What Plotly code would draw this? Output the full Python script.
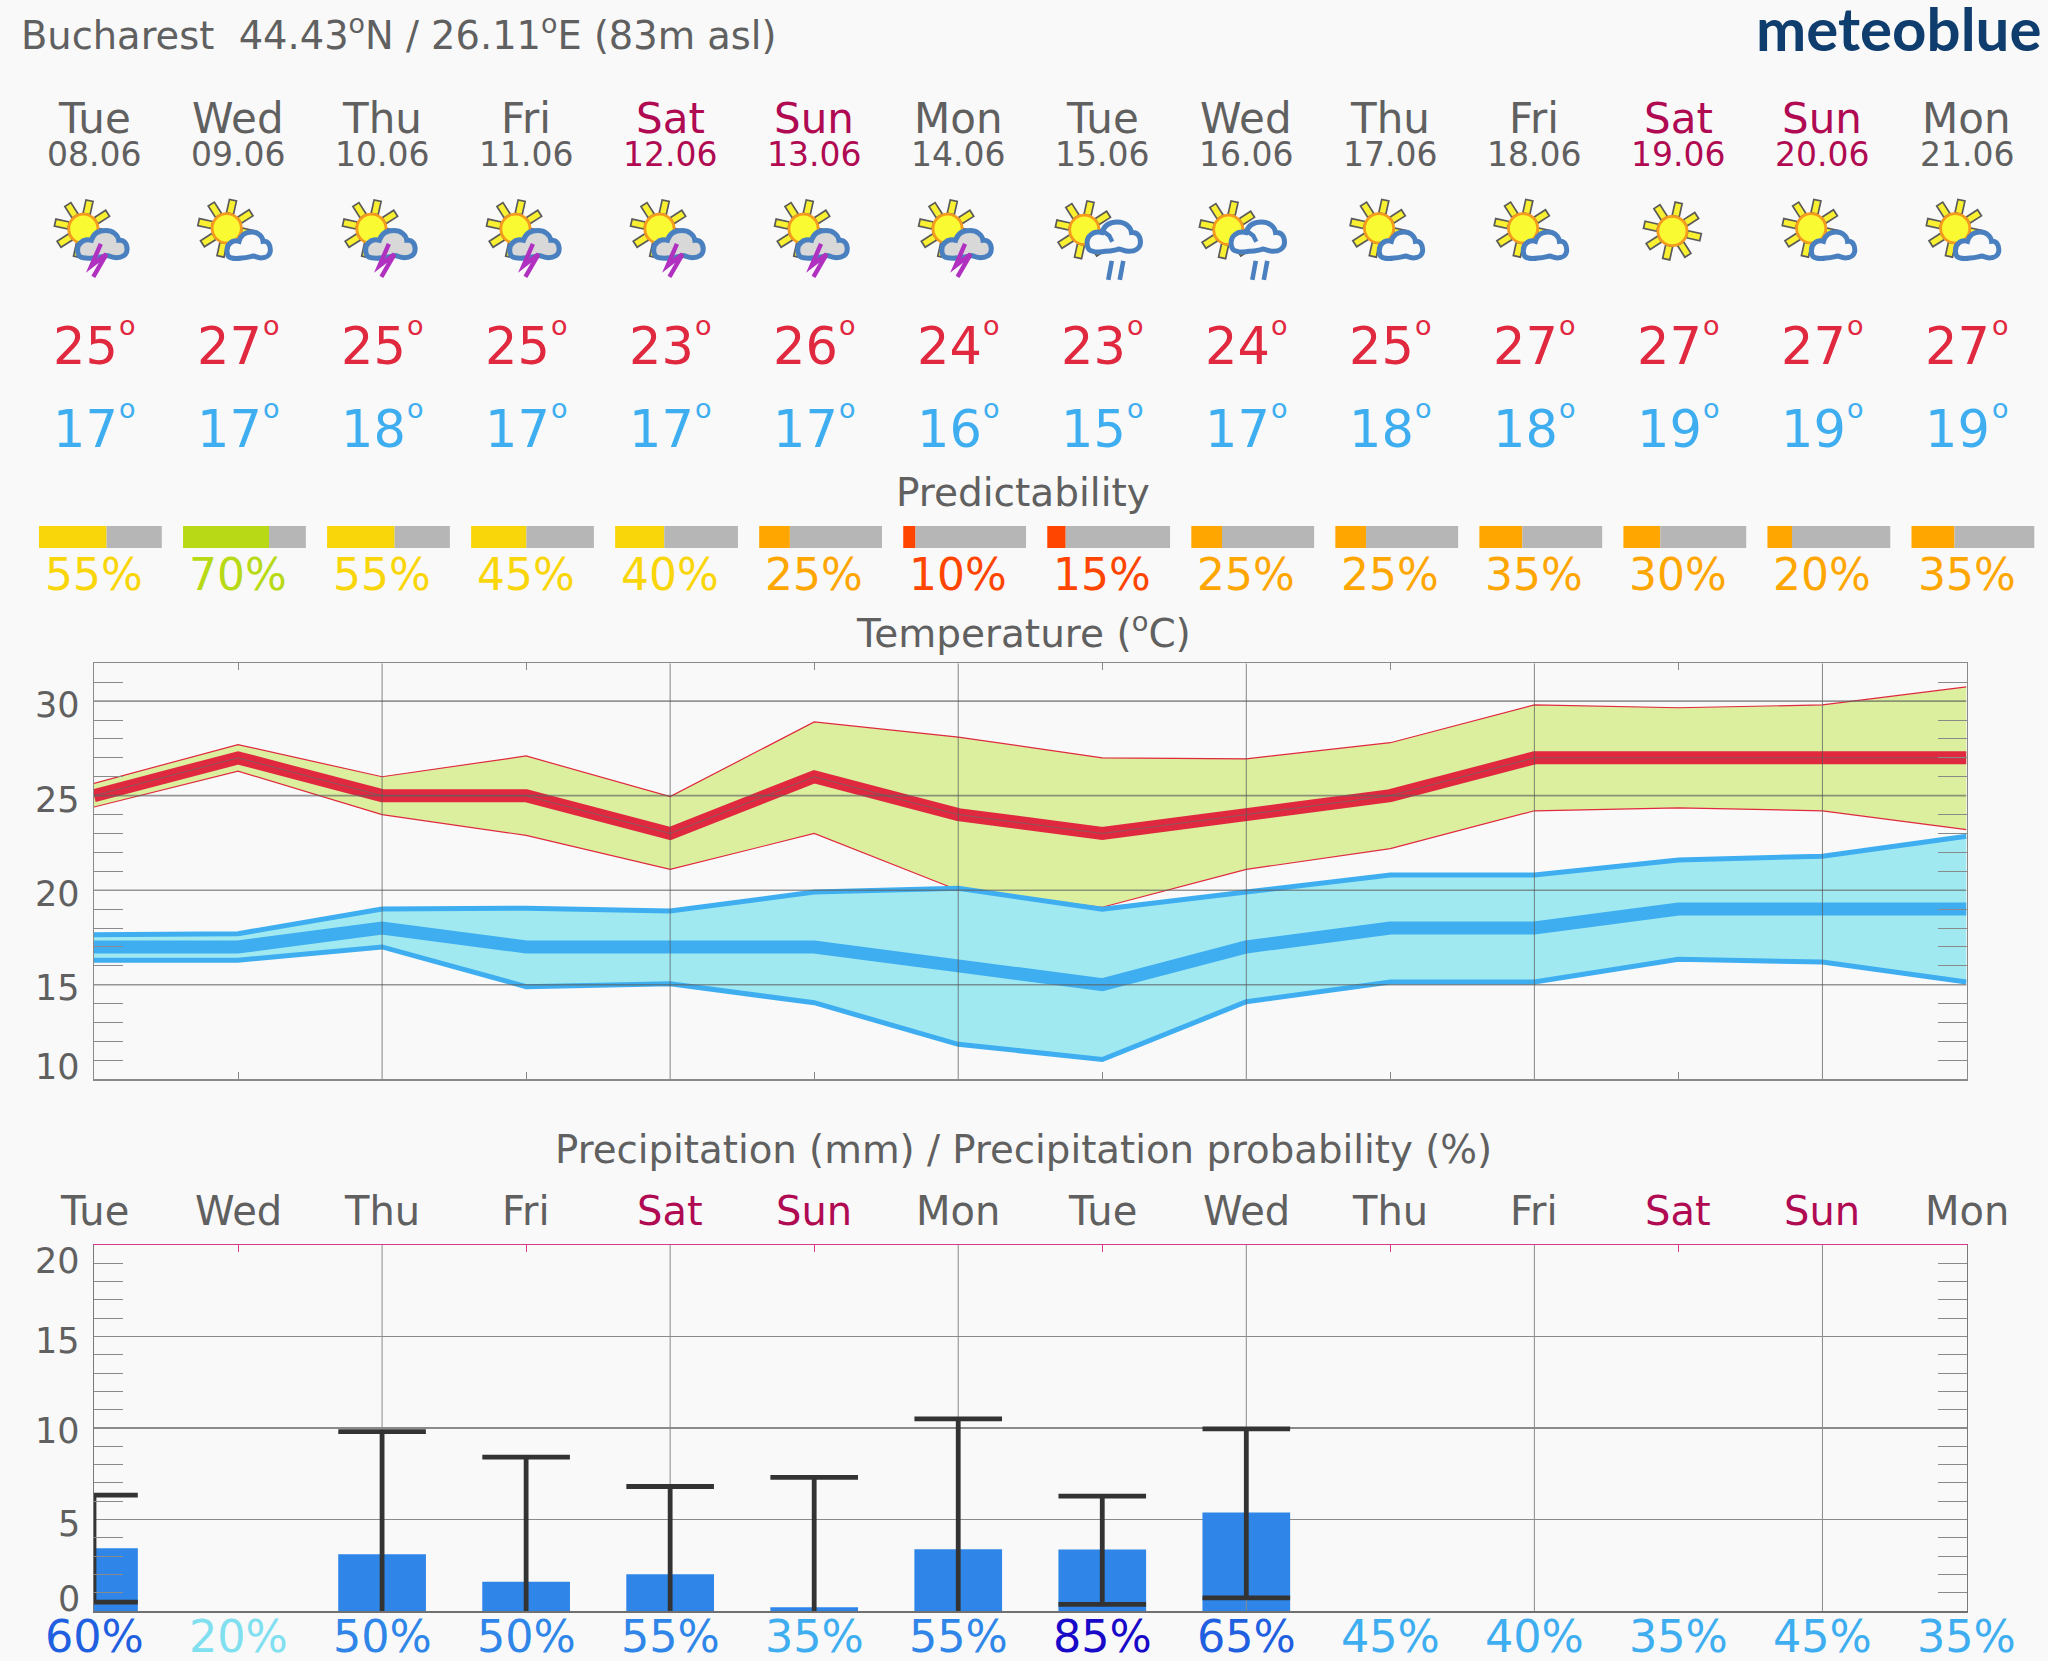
import math
import plotly.graph_objects as go

W, H = 2048, 1661
BG = "#f9f9f9"
GRAY = "#606060"
WKND = "#b00a52"
RED = "#e0283f"
SKY = "#3eaef0"
FONT = "DejaVu Sans"

days = ["Tue", "Wed", "Thu", "Fri", "Sat", "Sun", "Mon", "Tue", "Wed", "Thu", "Fri", "Sat", "Sun", "Mon"]
dates = ["08.06", "09.06", "10.06", "11.06", "12.06", "13.06", "14.06", "15.06", "16.06", "17.06", "18.06", "19.06", "20.06", "21.06"]
icons = ["storm", "cloud", "storm", "storm", "storm", "storm", "storm", "rain", "rain", "cloud", "cloud", "sun", "cloud", "cloud"]
tmax_daily = [25, 27, 25, 25, 23, 26, 24, 23, 24, 25, 27, 27, 27, 27]
tmin_daily = [17, 17, 18, 17, 17, 17, 16, 15, 17, 18, 18, 19, 19, 19]
tmax_hi = [25.65, 27.7, 26.0, 27.1, 24.95, 28.9, 28.1, 27.0, 26.95, 27.8, 29.8, 29.65, 29.8, 30.75]
tmax_lo = [24.4, 26.3, 24.0, 22.9, 21.1, 23.0, 20.0, 19.1, 21.1, 22.2, 24.2, 24.35, 24.2, 23.2]
tmin_hi = [17.65, 17.7, 19.0, 19.05, 18.9, 19.9, 20.1, 19.0, 19.9, 20.8, 20.8, 21.6, 21.8, 22.85]
tmin_lo = [16.3, 16.3, 17.0, 14.9, 15.05, 14.05, 11.85, 11.05, 14.1, 15.15, 15.15, 16.35, 16.2, 15.15]
predictability = [55, 70, 55, 45, 40, 25, 10, 15, 25, 25, 35, 30, 20, 35]
precip = [3.43, 0, 3.1, 1.6, 2.0, 0.2, 3.37, 3.36, 5.38, 0, 0, 0, 0, 0]
precip_hi = [6.33, None, 9.8, 8.4, 6.8, 7.3, 10.5, 6.27, 9.95, None, None, None, None, None]
precip_lo = [0.48, None, 0, 0, 0, 0, 0, 0.36, 0.71, None, None, None, None, None]
precip_prob = [60, 20, 50, 50, 55, 35, 55, 85, 65, 45, 40, 35, 45, 35]
temp_ticks = [30, 25, 20, 15, 10]
precip_ticks = [20, 15, 10, 5, 0]
temp_tick_shift = {30: 4, 25: 4, 20: 4, 15: 3, 10: -12}
precip_tick_shift = {20: 16, 15: 5, 10: 3, 5: 5, 0: -12}

X0, X1 = 94.0, 1966.5
DAY = (X1 - X0) / 13
xs = list(range(14))


def pred_color(p):
    if p <= 15:
        return "#ff4500"
    if p < 40:
        return "#ffa600"
    if p < 60:
        return "#f9d60a"
    return "#b8d916"


def prob_color(p):
    if p >= 80:
        return "#1808c8"
    if p >= 60:
        return "#1f5fe0"
    if p >= 50:
        return "#2f86e8"
    if p >= 30:
        return "#3eaef0"
    return "#80e0f0"


fig = go.Figure()


def line(x, y, color, width, **kw):
    fig.add_trace(go.Scatter(x=x, y=y, mode="lines", line=dict(color=color, width=width),
                             hoverinfo="skip", **kw))


# temperature bands
line(xs, tmax_lo, RED, 1.2, xaxis="x", yaxis="y")
line(xs, tmax_hi, RED, 1.2, xaxis="x", yaxis="y", fill="tonexty", fillcolor="#dbef9e")
line(xs, tmin_lo, SKY, 5, xaxis="x", yaxis="y")
line(xs, tmin_hi, SKY, 5, xaxis="x", yaxis="y", fill="tonexty", fillcolor="#a0e9f1")
line(xs, tmax_daily, RED, 13, xaxis="x", yaxis="y")
line(xs, tmin_daily, SKY, 13, xaxis="x", yaxis="y")
line(xs, tmax_daily, "rgba(105,105,105,0.75)", 1, xaxis="x", yaxis="y")

# temperature grid, drawn over the bands
gx, gy = [], []
for t in temp_ticks[:-1]:
    gx += [0, 13, None]
    gy += [t, t, None]
line(gx, gy, "rgba(95,95,95,0.65)", 1.6, xaxis="x", yaxis="y")
vx, vy = [], []
for d in xs[2:13:2]:
    vx += [d, d, None]
    vy += [10, 32, None]
line(vx, vy, "rgba(85,85,85,0.7)", 1, xaxis="x", yaxis="y")

# predictability bars
SPAN = 122.8 / DAY
OFFS = (39.0 - X0) / DAY
starts = [i + OFFS for i in xs]
fills = [p / 100 * SPAN for p in predictability]
fig.add_trace(go.Bar(x=fills, base=starts, y=[0.5] * 14, width=1, orientation="h",
                     marker=dict(color=[pred_color(p) for p in predictability], line=dict(width=0)),
                     xaxis="x3", yaxis="y3", hoverinfo="skip"))
fig.add_trace(go.Bar(x=[SPAN - f for f in fills], base=[s + f for s, f in zip(starts, fills)],
                     y=[0.5] * 14, width=1, orientation="h",
                     marker=dict(color="#b6b6b6", line=dict(width=0)),
                     xaxis="x3", yaxis="y3", hoverinfo="skip"))

# precipitation
fig.add_trace(go.Bar(x=xs, y=precip, width=87.7 / DAY, marker=dict(color="#2f86e8", line=dict(width=0)),
                     xaxis="x2", yaxis="y2", hoverinfo="skip"))
pgx, pgy = [], []
for d in xs[2:13:2]:
    pgx += [d, d, None]
    pgy += [0, 20, None]
line(pgx, pgy, "#8a8a8a", 1, xaxis="x2", yaxis="y2")
CAP = 43.8 / DAY
wx, wy, cx, cy = [], [], [], []
for i in xs:
    if precip_hi[i] is None:
        continue
    wx += [i, i, None]
    wy += [precip_lo[i], precip_hi[i], None]
    caps = [precip_hi[i]] + ([precip_lo[i]] if precip_lo[i] > 0 else [])
    for c in caps:
        cx += [max(i - CAP, 0), i + CAP, None]
        cy += [c, c, None]
line(wx, wy, "#333333", 4.8, xaxis="x2", yaxis="y2", cliponaxis=False)
line(cx, cy, "#333333", 4.8, xaxis="x2", yaxis="y2", cliponaxis=False)
# top axis of the precipitation panel
fig.add_trace(go.Scatter(x=[0, 13], y=[20, 20], mode="none", xaxis="x4", yaxis="y2", hoverinfo="skip"))

ann = []


def text(x, base, s, size, color, anchor="center", bold=False, family=FONT):
    ann.append(dict(x=x / W, xref="paper", y=1 - (base - 0.928 * size) / H, yref="paper", text=s,
                    showarrow=False, xanchor=anchor, yanchor="top", borderpad=0, borderwidth=0,
                    font=dict(family=family, size=size, color=color,
                              weight=700 if bold else 400)))


text(21, 44, "Bucharest\u00a0\u00a044.43<sup>o</sup>N / 26.11<sup>o</sup>E (83m asl)", 38.4, GRAY, "left")
text(2041, 48, "meteoblue", 60, "#0f3d6e", "right", True, "Lato")
text(1023, 506, "Predictability", 39, GRAY)
text(1023, 642.5, "Temperature (<sup>o</sup>C)", 39, GRAY)
text(1023, 1163, "Precipitation (mm) / Precipitation probability (%)", 38.7, GRAY)

for i in xs:
    c = WKND if days[i] in ("Sat", "Sun") else GRAY
    x = X0 + i * DAY
    text(x, 133, days[i], 42, c)
    text(x, 166, dates[i], 33, c)
    text(x - 9, 364.7, str(tmax_daily[i]), 51, RED)
    text(x + 33.5, 335, "o", 27, RED)
    text(x - 9, 447.7, str(tmin_daily[i]), 51, SKY)
    text(x + 33.5, 418, "o", 27, SKY)
    text(x, 590, f"{predictability[i]}%", 44, pred_color(predictability[i]))
    text(x, 1225, days[i], 40, c)
    text(x, 1652, f"{precip_prob[i]}%", 44.5, prob_color(precip_prob[i]))

for t in temp_ticks:
    ann.append(dict(x=81 / W, xref="paper", y=t, yref="y", text=str(t), showarrow=False, xanchor="right",
                    yanchor="middle", yshift=-temp_tick_shift[t], borderpad=0,
                    font=dict(family=FONT, size=35, color=GRAY)))
for t in precip_ticks:
    ann.append(dict(x=81 / W, xref="paper", y=t, yref="y2", text=str(t), showarrow=False, xanchor="right",
                    yanchor="middle", yshift=-precip_tick_shift[t], borderpad=0,
                    font=dict(family=FONT, size=35, color=GRAY)))

# weather icons
shapes = []


def px(x, y):
    return f"{x / W:.5f},{1 - y / H:.5f}"


def path(points, fill=None, color="#000", width=1, closed=False):
    d = "M" + px(*points[0]) + "".join(" L" + px(*p) for p in points[1:]) + (" Z" if closed else "")
    shapes.append(dict(type="path", path=d, xref="paper", yref="paper", fillcolor=fill or "rgba(0,0,0,0)",
                       line=dict(color=color, width=width), layer="above"))


CLOUD = [(126, 178), (140, 202), (122, 200), (122, 168), (135, 158), (143, 150), (155, 150), (162, 152),
         (168, 130), (185, 124), (200, 124), (218, 124), (232, 136), (234, 152), (248, 150), (256, 162),
         (256, 178), (256, 195), (242, 202), (228, 202), (218, 202), (212, 198), (205, 196), (195, 198),
         (185, 202), (170, 202), (158, 204), (148, 204), (140, 202)]


def cloud(cx_, cy_, sx, sy, fill):
    def m(p):
        return px(cx_ + (p[0] - 125) / 3 * sx, cy_ + (p[1] - 113) / 3 * sy)
    d = "M" + m(CLOUD[1])
    pts = CLOUD[2:]
    for k in range(0, len(pts) - 2, 3):
        d += " C" + m(pts[k]) + " " + m(pts[k + 1]) + " " + m(pts[k + 2])
    d += " Z"
    shapes.append(dict(type="path", path=d, xref="paper", yref="paper", fillcolor=fill,
                       line=dict(color="#4a80c0", width=5), layer="above"))


def sun(sx, sy):
    for k in range(8):
        a = math.radians(32.5 + 45 * k)
        ux, uy = math.cos(a), -math.sin(a)
        nx, ny = -uy * 3.6, ux * 3.6
        p0 = (sx + ux * 15, sy + uy * 15)
        p1 = (sx + ux * 28.8, sy + uy * 28.8)
        path([(p0[0] + nx, p0[1] + ny), (p1[0] + nx, p1[1] + ny), (p1[0] - nx, p1[1] - ny), (p0[0] - nx, p0[1] - ny)],
             "#f8f030", "#5a5a5a", 1.7, True)
    r = 14.6
    shapes.append(dict(type="circle", xref="paper", yref="paper", x0=(sx - r) / W, x1=(sx + r) / W,
                       y0=1 - (sy + r) / H, y1=1 - (sy - r) / H, fillcolor="#fafa32",
                       line=dict(color="#f59b1e", width=2.8), layer="above"))


for i, kind in enumerate(icons):
    x = X0 + i * DAY
    if kind == "sun":
        sun(x - 6, 231)
    elif kind == "cloud":
        sx, sy = x - 11.3, 228.3
        sun(sx, sy)
        cloud(sx, sy, 1, 1, BG)
    elif kind == "storm":
        sx, sy = x - 10.7, 228.8
        sun(sx, sy)
        cloud(sx - 6, sy - 2, 1.14, 1.04, "#d8d8d8")
        path([(sx + 17.5, sy + 15), (sx + 8, sy + 37), (sx + 23, sy + 25.5), (sx + 10, sy + 48)],
             None, "#b030c0", 4.4)
    else:
        sx, sy = x - 18, 229.8
        sun(sx, sy)
        cloud(sx + 2.5, sy - 12, 1.23, 1.13, BG)
        path([(sx + 19, sy + 1.5), (sx + 25, sy + 6), (sx + 28, sy + 12)], None, "#4a80c0", 4.4)
        path([(sx + 27.5, sy + 31), (sx + 24, sy + 50)], None, "#4a80c0", 4.6)
        path([(sx + 39, sy + 31), (sx + 35.5, sy + 50)], None, "#4a80c0", 4.6)

AX = "#8a8a8a"
odd_days = xs[1:14:2]
dx = [X0 / W, X1 / W]
temp_minor = [v for v in range(11, 32) if v % 5]
prec_minor = [v for v in range(1, 20) if v % 5]

fig.update_layout(
    width=W, height=H, autosize=False, margin=dict(l=0, r=0, t=0, b=0, pad=0),
    paper_bgcolor=BG, plot_bgcolor="rgba(0,0,0,0)", showlegend=False, hovermode=False,
    barmode="overlay", annotations=ann, shapes=shapes,
    xaxis=dict(domain=dx, range=[0, 13], tickmode="array", tickvals=odd_days,
               showticklabels=False, ticks="inside", ticklen=7, tickcolor=AX, showgrid=False, zeroline=False,
               showline=True, linecolor=AX, linewidth=1.5, mirror="ticks", anchor="y"),
    yaxis=dict(domain=[1 - 1079.3 / H, 1 - 663.3 / H], range=[10, 32], tickmode="array", tickvals=temp_minor,
               showticklabels=False, ticks="inside", ticklen=29, tickcolor=AX, tickwidth=1, showgrid=False,
               zeroline=False, showline=True, linecolor=AX, linewidth=1.5, mirror="ticks", anchor="x"),
    xaxis2=dict(domain=dx, range=[0, 13], tickmode="array", tickvals=[], showticklabels=False, ticks="",
                showgrid=False, zeroline=False, showline=True,
                linecolor="#707070", linewidth=2, anchor="y2"),
    xaxis4=dict(domain=dx, range=[0, 13], overlaying="x2", side="top", tickmode="array", tickvals=odd_days,
                showticklabels=False, ticks="inside", ticklen=7, tickcolor="#d63a8a", showgrid=False,
                zeroline=False, showline=True, linecolor="#d63a8a", linewidth=1.5, anchor="y2"),
    yaxis2=dict(domain=[1 - 1610.9 / H, 1 - 1245 / H], range=[0, 20], tickmode="array", tickvals=[5, 10, 15],
                showticklabels=False, ticks="", showgrid=True, gridcolor="#8a8a8a", gridwidth=1.4,
                minor=dict(tickmode="array", tickvals=prec_minor, ticks="inside", ticklen=29, tickcolor=AX,
                           tickwidth=1, showgrid=False),
                zeroline=False, showline=True, linecolor="#7a7a7a", linewidth=1.5, mirror="ticks", anchor="x2"),
    xaxis3=dict(domain=[0, 1], range=[-X0 / DAY, (W - X0) / DAY], visible=False, anchor="y3"),
    yaxis3=dict(domain=[1 - 548 / H, 1 - 526 / H], range=[0, 1], visible=False, anchor="x3"),
)

fig.write_html("out.html", config=dict(displayModeBar=False, staticPlot=True),
               post_script="document.body.style.margin='0';document.documentElement.style.overflow='hidden';")
